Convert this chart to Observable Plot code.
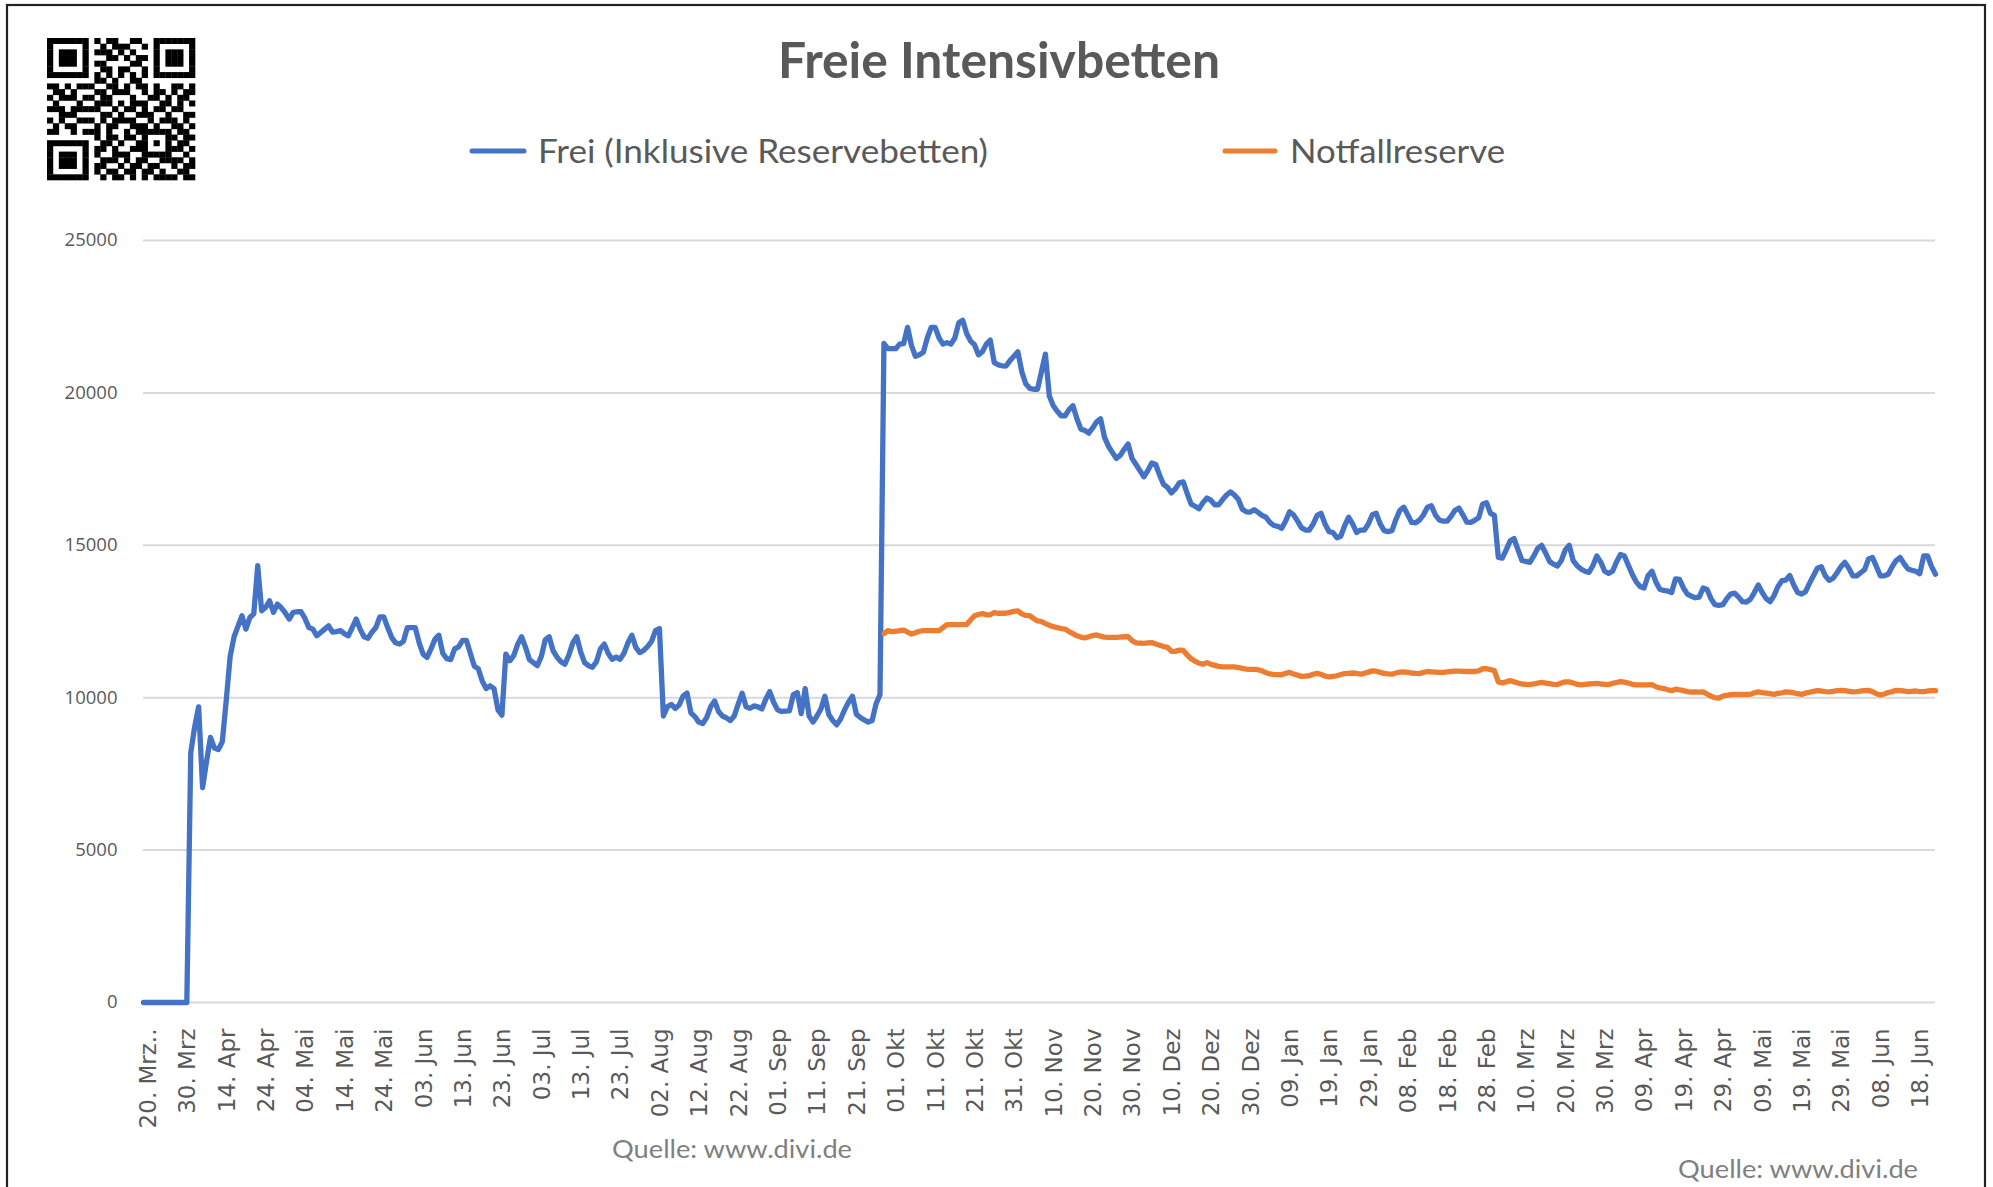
<!DOCTYPE html>
<html lang="de">
<head>
<meta charset="utf-8">
<script src="https://cdn.jsdelivr.net/npm/d3@7"></script>
<script src="https://cdn.jsdelivr.net/npm/@observablehq/plot@0.6"></script>
<style>
html,body{margin:0;padding:0;background:#fff;}
#wrap{position:relative;width:1993px;height:1187px;overflow:hidden;background:#fff;}
#wrap svg{position:absolute;left:0;top:0;}
</style>
</head>
<body>
<div id="wrap"></div>
<script>
// ---- Data ----
const titel = "Freie Intensivbetten";
const serienNamen = ["Frei (Inklusive Reservebetten)", "Notfallreserve"];
const quelle = "Quelle: www.divi.de";

// category tick labels, one every 10 categories (index 0,10,...,450)
const tickLabels = ["20. Mrz..","30. Mrz","14. Apr","24. Apr","04. Mai","14. Mai","24. Mai","03. Jun","13. Jun","23. Jun",
  "03. Jul","13. Jul","23. Jul","02. Aug","12. Aug","22. Aug","01. Sep","11. Sep","21. Sep","01. Okt",
  "11. Okt","21. Okt","31. Okt","10. Nov","20. Nov","30. Nov","10. Dez","20. Dez","30. Dez","09. Jan",
  "19. Jan","29. Jan","08. Feb","18. Feb","28. Feb","10. Mrz","20. Mrz","30. Mrz","09. Apr","19. Apr",
  "29. Apr","09. Mai","19. Mai","29. Mai","08. Jun","18. Jun"];
const yTicks = [0, 5000, 10000, 15000, 20000, 25000];

// Frei (Inklusive Reservebetten): one value per category, index 0..455
const freiWerte = [
  0,0,0,0,0,0,0,0,0,0,
  0,0,8200,9050,9700,7050,7900,8700,8350,8300,
  8550,9900,11350,12000,12350,12690,12250,12630,12750,14330,
  12850,12960,13180,12800,13070,12950,12780,12580,12800,12820,
  12820,12600,12300,12250,12030,12140,12250,12360,12150,12170,
  12200,12100,12030,12300,12580,12250,12000,11950,12150,12300,
  12650,12650,12300,11980,11800,11760,11850,12300,12300,12300,
  11800,11430,11320,11600,11920,12050,11450,11280,11250,11600,
  11670,11880,11880,11450,11030,10950,10550,10300,10390,10300,
  9600,9430,11430,11210,11380,11750,12000,11650,11250,11150,
  11050,11350,11900,12000,11540,11330,11180,11100,11400,11800,
  12000,11500,11150,11050,11000,11180,11600,11760,11450,11260,
  11330,11260,11460,11800,12050,11650,11480,11550,11680,11850,
  12200,12270,9400,9700,9780,9650,9760,10050,10150,9500,
  9380,9200,9150,9350,9700,9890,9550,9400,9340,9250,
  9400,9790,10150,9700,9650,9730,9700,9630,9950,10200,
  9850,9600,9550,9560,9570,10100,10170,9480,10300,9400,
  9200,9400,9630,10050,9450,9250,9110,9300,9600,9850,
  10050,9460,9350,9270,9200,9250,9800,10100,21620,21450,
  21450,21450,21600,21620,22150,21550,21200,21250,21330,21800,
  22150,22150,21800,21600,21650,21600,21800,22300,22380,21950,
  21700,21580,21250,21350,21600,21730,21000,20920,20890,20880,
  21060,21200,21350,20700,20300,20150,20120,20120,20700,21270,
  19900,19580,19400,19250,19250,19450,19580,19150,18810,18770,
  18680,18850,19050,19150,18550,18250,18050,17850,17950,18150,
  18320,17850,17650,17450,17250,17450,17700,17650,17300,17000,
  16900,16720,16850,17050,17080,16700,16350,16280,16200,16400,
  16550,16480,16330,16330,16500,16650,16750,16650,16500,16180,
  16100,16090,16170,16080,15980,15920,15750,15650,15620,15560,
  15800,16100,16000,15800,15580,15500,15500,15700,15980,16050,
  15700,15450,15420,15250,15300,15650,15920,15700,15420,15500,
  15500,15700,16000,16050,15700,15480,15450,15480,15850,16150,
  16250,16000,15750,15740,15830,16000,16250,16300,16000,15830,
  15790,15790,15950,16150,16220,16000,15760,15750,15820,15900,
  16350,16400,16050,15980,14600,14580,14850,15150,15220,14850,
  14500,14470,14440,14650,14900,15000,14750,14470,14380,14320,
  14500,14850,15000,14500,14330,14220,14150,14110,14330,14650,
  14450,14150,14080,14150,14450,14700,14650,14350,14050,13800,
  13650,13600,14000,14150,13800,13560,13520,13500,13450,13900,
  13880,13600,13400,13330,13280,13300,13600,13550,13250,13050,
  13030,13050,13250,13400,13430,13300,13150,13140,13230,13450,
  13700,13450,13250,13150,13350,13650,13840,13860,14010,13700,
  13450,13400,13480,13750,14000,14250,14300,14000,13850,13920,
  14100,14300,14440,14250,14000,14000,14100,14200,14550,14600,
  14300,14000,14000,14050,14300,14500,14600,14400,14220,14180,
  14150,14070,14650,14650,14300,14050
];

// Notfallreserve: starts at category index 188, one value per category up to 455
const reserveStartIndex = 188;
const reserveWerte = [
  12100,12200,
  12170,12180,12200,12220,12150,12090,12130,12180,12200,12200,
  12200,12200,12200,12300,12400,12400,12400,12400,12400,12400,
  12550,12690,12730,12760,12720,12720,12790,12770,12770,12770,
  12800,12830,12850,12750,12700,12690,12600,12520,12500,12430,
  12380,12330,12300,12270,12250,12170,12100,12030,11990,11960,
  12000,12040,12060,12020,11990,11980,11980,11980,11990,12000,
  12000,11870,11800,11790,11780,11800,11810,11760,11720,11680,
  11650,11520,11520,11560,11550,11400,11280,11200,11130,11100,
  11150,11100,11060,11030,11010,11010,11010,11010,10990,10960,
  10940,10930,10930,10920,10880,10820,10780,10760,10760,10750,
  10800,10830,10780,10740,10700,10710,10720,10770,10800,10760,
  10710,10680,10700,10720,10760,10790,10800,10810,10800,10770,
  10800,10840,10880,10870,10830,10800,10780,10770,10810,10840,
  10850,10830,10810,10800,10790,10830,10860,10850,10840,10830,
  10830,10850,10860,10870,10870,10865,10860,10860,10860,10880,
  10950,10950,10920,10890,10520,10480,10520,10560,10520,10480,
  10450,10440,10430,10450,10480,10500,10480,10460,10440,10430,
  10480,10520,10520,10480,10440,10420,10440,10450,10460,10470,
  10450,10440,10430,10470,10500,10530,10510,10480,10440,10420,
  10420,10420,10420,10430,10360,10320,10300,10260,10230,10280,
  10260,10230,10200,10180,10190,10180,10190,10120,10050,10000,
  9990,10050,10080,10100,10110,10110,10110,10110,10110,10160,
  10190,10170,10150,10130,10110,10140,10160,10190,10180,10160,
  10130,10110,10150,10180,10210,10230,10220,10200,10190,10210,
  10230,10240,10230,10210,10190,10200,10220,10230,10240,10200,
  10130,10090,10120,10170,10200,10240,10230,10220,10200,10210,
  10220,10200,10200,10220,10230,10230
];

// decorative QR code modules (1 = black)
const qrZeilen = [
  "1111111 0 101100110 0 1111111",
  "1000001 0 010111001 0 1000001",
  "1011101 0 111010100 0 1011101",
  "1011101 0 001101011 0 1011101",
  "1011101 0 110000110 0 1011101",
  "1000001 0 011011001 0 1000001",
  "1111111 0 101010101 0 1111111",
  "0000000 0 110100110 0 0000000",
  "1101011100110101101001101",
  "0110100011011100101101011",
  "1011101101100010011010110",
  "0100010011101011100110101",
  "1110111110010110101101100",
  "0011100001101001110010011",
  "1010011101011110010111010",
  "0101100010110011101001101",
  "1100101110100101 11111 0110",
  "00000000 10110110 10001 1011",
  "1111111 0 01101001 10101 0110",
  "1000001 0 11010011 10001 1101",
  "1011101 0 10011100 11111 0010",
  "1011101 0 01110101 10011 1101",
  "1011101 0 11001011 01100 1011",
  "1000001 0 10110110 11010 0110",
  "1111111 0 01011010 10111 1011"
];

// ---- Build ----
const blau = "#4472C4", orange = "#ED7D31", grau = "#595959";
const frei = freiWerte.map((v, i) => ({i, v}));
const reserve = reserveWerte.map((v, k) => ({i: reserveStartIndex + k, v}));
const lastIndex = freiWerte.length - 1;

const chart = Plot.plot({
  width: 1993,
  height: 1187,
  marginLeft: 143,
  marginRight: 58,
  marginTop: 240,
  marginBottom: 185,
  style: {background: "transparent", color: grau},
  x: {type: "linear", domain: [0, lastIndex]},
  y: {domain: [0, 25000]},
  marks: [
    Plot.ruleY(yTicks, {stroke: "#d9d9d9", strokeWidth: 2}),
    Plot.axisY(yTicks, {tickFormat: d => String(d), tickSize: 0, tickPadding: 26, fontSize: 18.5, fontFamily: "'Open Sans', sans-serif", fill: grau, label: null}),
    Plot.axisX(d3.range(0, tickLabels.length * 10, 10), {tickFormat: t => tickLabels[t / 10], tickRotate: -90, tickSize: 0, tickPadding: 26, dx: 5, fontSize: 23, fontFamily: "DejaVu Sans", fill: grau, label: null}),
    Plot.lineY(frei, {x: "i", y: "v", stroke: blau, strokeWidth: 5.3, strokeLinejoin: "round", strokeLinecap: "round"}),
    Plot.lineY(reserve, {x: "i", y: "v", stroke: orange, strokeWidth: 5.3, strokeLinejoin: "round", strokeLinecap: "round"})
  ]
});
document.getElementById("wrap").appendChild(chart);

// ---- Overlay: frame, QR, title, legend, source ----
const ov = d3.select("#wrap").append("svg")
  .attr("width", 1993).attr("height", 1187)
  .style("pointer-events", "none");

ov.append("rect").attr("x", 7).attr("y", 5).attr("width", 1978).attr("height", 1200)
  .attr("fill", "none").attr("stroke", "#222").attr("stroke-width", 2.2);

// QR
const qx = 47, qy = 38, qw = 148, qh = 142;
const rows = qrZeilen.map(r => r.replace(/ /g, ""));
const n = rows.length, mw = qw / n, mh = qh / n;
const qg = ov.append("g");
rows.forEach((r, ri) => {
  [...r].forEach((c, ci) => {
    if (c === "1") qg.append("rect").attr("x", qx + ci * mw).attr("y", qy + ri * mh)
      .attr("width", mw + 0.3).attr("height", mh + 0.3).attr("fill", "#000");
  });
});

// Title
ov.append("text").attr("x", 999).attr("y", 78).attr("text-anchor", "middle")
  .attr("font-family", "Lato, 'Open Sans', sans-serif").attr("font-weight", "bold")
  .attr("font-size", 49).attr("fill", grau)
  .attr("textLength", 442).attr("lengthAdjust", "spacingAndGlyphs").text(titel);

// Legend
const leg = [
  {x1: 472, x2: 524, tx: 538, tl: 450, c: blau, t: serienNamen[0]},
  {x1: 1225, x2: 1275, tx: 1290, tl: 215, c: orange, t: serienNamen[1]}
];
leg.forEach(l => {
  ov.append("line").attr("x1", l.x1).attr("x2", l.x2).attr("y1", 151).attr("y2", 151)
    .attr("stroke", l.c).attr("stroke-width", 5).attr("stroke-linecap", "round");
  ov.append("text").attr("x", l.tx).attr("y", 163).attr("font-family", "Lato, 'Open Sans', sans-serif")
    .attr("font-size", 33).attr("fill", grau)
    .attr("textLength", l.tl).attr("lengthAdjust", "spacingAndGlyphs").text(l.t);
});

// Source notes
[{x: 612, y: 1158}, {x: 1678, y: 1178}].forEach(s => {
  ov.append("text").attr("x", s.x).attr("y", s.y).attr("font-family", "Lato, 'Open Sans', sans-serif")
    .attr("font-size", 25.5).attr("fill", "#7f7f7f")
    .attr("textLength", 240).attr("lengthAdjust", "spacingAndGlyphs").text(quelle);
});
</script>
</body>
</html>
